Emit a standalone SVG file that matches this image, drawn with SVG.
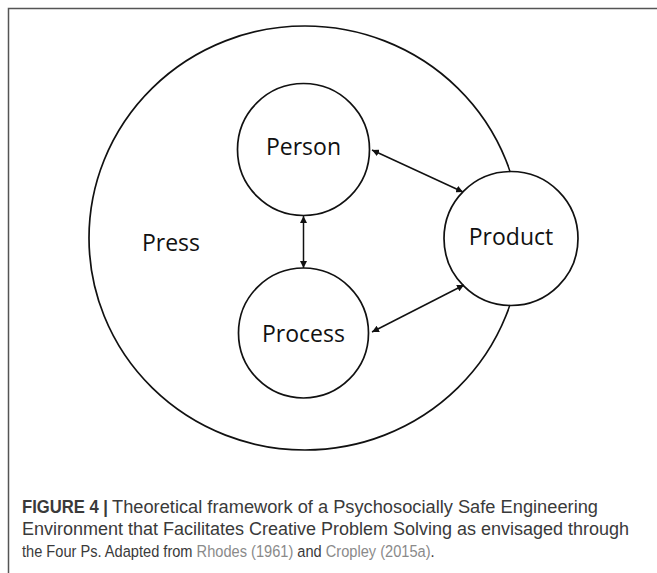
<svg xmlns="http://www.w3.org/2000/svg" width="657" height="573" viewBox="0 0 657 573">
<style>
.ring{fill:none;stroke:#111;stroke-width:1.7}
.lbl{font-family:"Open Sans","Liberation Sans",sans-serif;font-size:23px;fill:#111;text-anchor:middle}
.conn{stroke:#111;stroke-width:1.5;fill:none;marker-start:url(#ah);marker-end:url(#ah)}
.cap{font-family:"Liberation Sans",Arial,sans-serif;font-size:17.5px;fill:#3a3a3a}
.c3{font-size:17px}
.link{fill:#8a8a8a}
</style>
<defs>
<marker id="ah" viewBox="0 0 10 10" refX="10" refY="5" markerWidth="7" markerHeight="7" markerUnits="userSpaceOnUse" orient="auto-start-reverse">
<path d="M0,0 L10,5 L0,10 z" fill="#111"/>
</marker>
</defs>
<rect width="657" height="573" fill="#fff"/>
<path d="M8.5,573 V8.5 H657" fill="none" stroke="#555" stroke-width="1.5"/>
<g id="press">
<ellipse class="ring" cx="305" cy="238" rx="216" ry="212"/>
<text class="lbl" x="171" y="251">Press</text>
</g>
<g id="person">
<circle class="ring" cx="303.5" cy="149.5" r="66" fill="#fff"/>
<text class="lbl" x="303.5" y="155">Person</text>
</g>
<g id="process">
<circle class="ring" cx="303.5" cy="333" r="65"/>
<text class="lbl" x="303.5" y="342">Process</text>
</g>
<g id="product">
<circle class="ring" cx="511" cy="238.5" r="67" style="fill:#fff"/>
<text class="lbl" x="511" y="245">Product</text>
</g>
<g id="connectors">
<line class="conn" x1="303.5" y1="216" x2="303.5" y2="268"/>
<line class="conn" x1="372" y1="150" x2="463" y2="192"/>
<line class="conn" x1="372" y1="332" x2="464" y2="285"/>
</g>
<g id="caption">
<text class="cap" x="22" y="513" font-weight="bold" fill="#222" textLength="86" lengthAdjust="spacingAndGlyphs">FIGURE 4 |</text>
<text class="cap" x="112" y="513" textLength="486" lengthAdjust="spacingAndGlyphs">Theoretical framework of a Psychosocially Safe Engineering</text>
<text class="cap" x="22" y="535" textLength="607" lengthAdjust="spacingAndGlyphs">Environment that Facilitates Creative Problem Solving as envisaged through</text>
<text class="cap c3" transform="translate(22,557) scale(0.86,1)" x="0" y="0">the Four Ps. Adapted from <tspan class="link">Rhodes (1961)</tspan> and <tspan class="link">Cropley (2015a)</tspan>.</text>
</g>
</svg>
